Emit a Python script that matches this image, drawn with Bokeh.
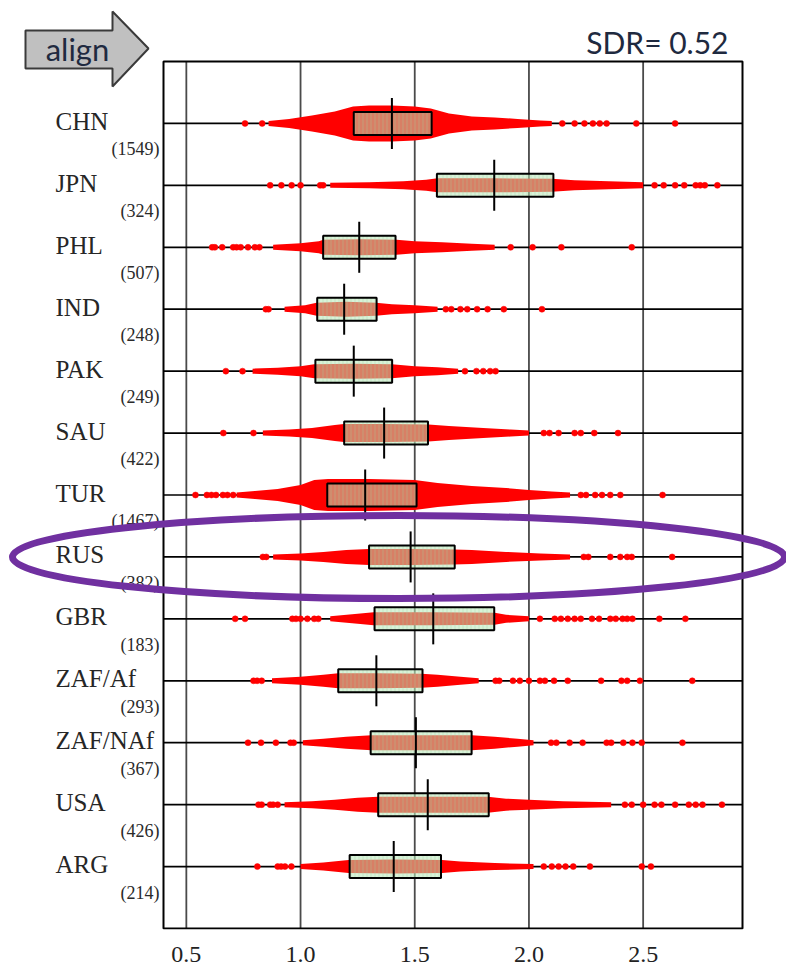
import numpy as np
from bokeh.plotting import figure
from bokeh.models import Range1d, FixedTicker
from bokeh.core.properties import value
from bokeh.embed import file_html
from bokeh.resources import INLINE

# ---------------- data ----------------
countries = ["CHN", "JPN", "PHL", "IND", "PAK", "SAU", "TUR", "RUS", "GBR",
             "ZAF/Af", "ZAF/NAf", "USA", "ARG"]
counts = [1549, 324, 507, 248, 249, 422, 1467, 382, 183, 293, 367, 426, 214]

q1 = [1.233, 1.597, 1.099, 1.073, 1.065, 1.191, 1.117, 1.300, 1.324, 1.165, 1.307, 1.340, 1.215]
median = [1.400, 1.848, 1.257, 1.191, 1.233, 1.366, 1.283, 1.482, 1.581, 1.332, 1.505, 1.557, 1.408]
q3 = [1.574, 2.107, 1.416, 1.333, 1.401, 1.558, 1.508, 1.675, 1.848, 1.534, 1.749, 1.824, 1.615]

# dense part of each point cloud: positions and half-thickness of the cloud (px)
band_x = [
    [0.86, 0.95, 1.05, 1.15, 1.23, 1.30, 1.40, 1.50, 1.57, 1.65, 1.75, 1.85, 1.95, 2.05, 2.10],
    [1.13, 1.30, 1.45, 1.55, 1.60, 1.85, 2.10, 2.20, 2.35, 2.50],
    [0.88, 1.00, 1.08, 1.10, 1.26, 1.42, 1.50, 1.62, 1.75, 1.85],
    [0.93, 1.02, 1.07, 1.20, 1.33, 1.40, 1.50, 1.60],
    [0.79, 0.90, 1.00, 1.06, 1.23, 1.40, 1.50, 1.60, 1.69],
    [0.835, 0.95, 1.05, 1.15, 1.19, 1.37, 1.56, 1.65, 1.80, 1.92, 2.00],
    [0.72, 0.80, 0.90, 1.00, 1.06, 1.12, 1.30, 1.50, 1.60, 1.75, 1.90, 2.00, 2.10, 2.18],
    [0.88, 1.00, 1.10, 1.20, 1.30, 1.48, 1.67, 1.75, 1.90, 2.05, 2.18],
    [1.13, 1.25, 1.32, 1.58, 1.85, 1.90, 2.00],
    [0.875, 1.00, 1.10, 1.165, 1.33, 1.53, 1.60, 1.70, 1.78],
    [1.01, 1.10, 1.20, 1.31, 1.50, 1.75, 1.85, 1.95, 2.02],
    [0.93, 1.05, 1.15, 1.25, 1.34, 1.56, 1.82, 1.90, 2.00, 2.15, 2.36],
    [1.00, 1.10, 1.21, 1.41, 1.62, 1.70, 1.85, 2.02],
]
band_w = [
    [2.5, 4.5, 8, 12, 17, 18, 18, 17, 15, 10, 7, 6, 4.5, 3, 2.5],
    [2.5, 3, 4, 5.5, 7, 7, 6.5, 5, 4, 3],
    [2.5, 4, 6, 7.5, 8, 7.5, 6, 5, 3.5, 2.5],
    [2.5, 4, 6.5, 7.5, 6.5, 5, 4, 2.5],
    [2.5, 3.5, 5, 7, 7.5, 7, 5, 4, 2.5],
    [2.5, 3.5, 5, 8, 9, 9, 8.5, 7, 5, 3.5, 2.5],
    [2.5, 4, 6, 10, 15, 16, 16, 15, 12, 9, 7, 5, 3.5, 2.5],
    [2.5, 3.5, 5, 7, 8, 8, 7.5, 7, 5, 3.5, 2.5],
    [2.5, 5, 6.5, 6.5, 6, 4, 2.5],
    [2.5, 4, 6, 7.5, 7.5, 7, 6, 4, 2.5],
    [2.5, 4, 6, 7.5, 7.5, 7.5, 6, 4, 2.5],
    [2.5, 3.5, 5, 7, 8, 8, 8, 6, 5, 3.5, 2.5],
    [2.5, 4, 6.5, 7, 6.5, 5, 3.5, 2.5],
]
# isolated points in the tails
tail_x = [
    [0.757, 0.832, 2.146, 2.20, 2.243, 2.28, 2.31, 2.34, 2.47, 2.64],
    [0.867, 0.916, 0.961, 1.0, 1.086, 1.099, 2.55, 2.59, 2.64, 2.68, 2.73, 2.75, 2.77, 2.825],
    [0.613, 0.625, 0.657, 0.705, 0.72, 0.738, 0.77, 0.80, 0.82, 1.92, 2.016, 2.142, 2.45],
    [0.848, 0.86, 1.636, 1.66, 1.70, 1.73, 1.773, 1.819, 1.89, 2.057],
    [0.673, 0.746, 1.72, 1.77, 1.80, 1.83, 1.854],
    [0.662, 0.794, 2.065, 2.09, 2.13, 2.20, 2.227, 2.286, 2.39],
    [0.54, 0.59, 0.61, 0.63, 0.66, 0.68, 0.705, 2.227, 2.25, 2.29, 2.32, 2.356, 2.40, 2.585],
    [0.835, 0.85, 2.24, 2.26, 2.356, 2.40, 2.43, 2.45, 2.627],
    [0.714, 0.757, 0.964, 0.98, 1.00, 1.03, 1.06, 1.078, 2.048, 2.113, 2.14, 2.17, 2.20,
     2.227, 2.276, 2.307, 2.356, 2.38, 2.41, 2.43, 2.453, 2.571, 2.685],
    [0.794, 0.81, 0.83, 1.854, 1.87, 1.93, 1.96, 2.0, 2.048, 2.07, 2.11, 2.17, 2.316,
     2.405, 2.43, 2.486, 2.715],
    [0.77, 0.827, 0.892, 0.956, 0.97, 2.097, 2.12, 2.178, 2.235, 2.34, 2.36, 2.413,
     2.453, 2.494, 2.672],
    [0.816, 0.83, 0.867, 0.88, 0.90, 2.42, 2.45, 2.50, 2.55, 2.58, 2.64, 2.70, 2.73,
     2.76, 2.845],
    [0.811, 0.90, 0.915, 0.932, 0.96, 2.065, 2.10, 2.13, 2.16, 2.194, 2.267, 2.494, 2.534],
]
x_ticks = [0.5, 1.0, 1.5, 2.0, 2.5]
x_tick_labels = ["0.5", "1.0", "1.5", "2.0", "2.5"]
sdr_text = "SDR= 0.52"
arrow_text = "align"

# ---------------- layout (pixels of the 786x968 page) ----------------
W, H = 786, 968
FRAME_B = 929                      # bottom of the drawing frame (axis below it)
FL, FR, FT, FB = 163, 742, 61, 928  # plot box
XMIN, XMAX = 0.40, 2.935
YTOP, YBOT = 0, 14
PPX = (FR - FL) / (XMAX - XMIN)
PPY = (FB - FT) / (YBOT - YTOP)


def px2x(px):
    return XMIN + (np.asarray(px, dtype=float) - FL) / PPX


def py2y(py):
    return YTOP + (np.asarray(py, dtype=float) - FT) / PPY


rows = list(range(1, len(countries) + 1))

p = figure(width=W, height=H,
           x_range=Range1d(float(px2x(0)), float(px2x(W))),
           y_range=Range1d(float(py2y(FRAME_B)), float(py2y(0))),
           min_border_left=0, min_border_right=0, min_border_top=0,
           min_border_bottom=H - FRAME_B, y_axis_location=None,
           output_backend="svg", toolbar_location=None,
           background_fill_color="white", border_fill_color="white")
p.outline_line_color = None
p.grid.visible = False

# x axis (real Bokeh axis)
p.xaxis.ticker = FixedTicker(ticks=x_ticks)
p.xaxis.major_label_overrides = {t: l for t, l in zip(x_ticks, x_tick_labels)}
p.xaxis.axis_line_color = None
p.xaxis.major_tick_line_color = None
p.xaxis.minor_tick_line_color = None
p.xaxis.major_label_text_font = "Liberation Serif"
p.xaxis.major_label_text_font_size = "24px"
p.xaxis.major_label_text_color = "#222222"
p.xaxis.major_label_standoff = 11

# grid lines inside the plot box
p.segment(x0=x_ticks, y0=[YTOP] * len(x_ticks), x1=x_ticks, y1=[YBOT] * len(x_ticks),
          line_color="#4a4a4a", line_width=1.8)
p.segment(x0=[XMIN] * len(rows), y0=rows, x1=[XMAX] * len(rows), y1=rows,
          line_color="black", line_width=1.7)

# point clouds
for i, r in enumerate(rows):
    w = np.asarray(band_w[i]) / PPY
    p.varea(x=band_x[i], y1=list(r - w), y2=list(r + w), fill_color="#ff0000")

tx, ty = [], []
for i, r in enumerate(rows):
    tx += tail_x[i]
    ty += [r] * len(tail_x[i])
p.scatter(x=tx, y=ty, size=6, fill_color="#ff0000", line_color="#ff0000", line_width=0.5)

# boxes
BOX_H = 11.5 / PPY
MED_H = 25.5 / PPY
p.quad(left=q1, right=q3, top=[r - BOX_H for r in rows], bottom=[r + BOX_H for r in rows],
       fill_color="#b8e8b8", fill_alpha=0.55, line_color="black", line_width=2,
       hatch_pattern="vertical_line", hatch_color="#9ed49e", hatch_alpha=0.35,
       hatch_scale=4, hatch_weight=1)
p.segment(x0=median, y0=[r - MED_H for r in rows], x1=median, y1=[r + MED_H for r in rows],
          line_color="black", line_width=2)

# plot box border
p.quad(left=[XMIN], right=[XMAX], top=[YTOP], bottom=[YBOT], fill_alpha=0,
       line_color="black", line_width=2)

# row labels
p.text(x=[float(px2x(55))] * len(rows), y=[r - 2 / PPY for r in rows], text=countries,
       text_align="left", text_baseline="middle", text_font=value("Liberation Serif"),
       text_font_size="25px", text_color="#262626")
p.text(x=[float(px2x(159))] * len(rows), y=[r + 26 / PPY for r in rows],
       text=["(%d)" % n for n in counts],
       text_align="right", text_baseline="middle", text_font=value("Liberation Serif"),
       text_font_size="18px", text_color="#2a2a2a")

# "align" arrow and SDR text
ax = [25, 112, 112, 148, 112, 112, 25]
ay = [30, 30, 11, 48, 86, 68, 68]
p.patch(x=list(px2x(ax)), y=list(py2y(ay)), fill_color="#c0c0c0", line_color="#3a3a3a",
        line_width=2)
p.text(x=[float(px2x(77))], y=[float(py2y(48))], text=[arrow_text], text_align="center",
       text_baseline="alphabetic", text_font=value("Lato"), text_font_size="31px",
       text_color="#1f2a40")
p.text(x=[float(px2x(728))], y=[float(py2y(41))], text=[sdr_text], text_align="right",
       text_baseline="alphabetic", text_font=value("Lato"), text_font_size="30px",
       text_color="#1f2a40")

# purple highlight ellipse
p.ellipse(x=[float(px2x(398))], y=[float(py2y(556.5))], width=[772 / PPX], height=[83 / PPY],
          fill_alpha=0, line_color="#7030a0", line_width=7)

open("out.html", "w").write(file_html(p, INLINE))
